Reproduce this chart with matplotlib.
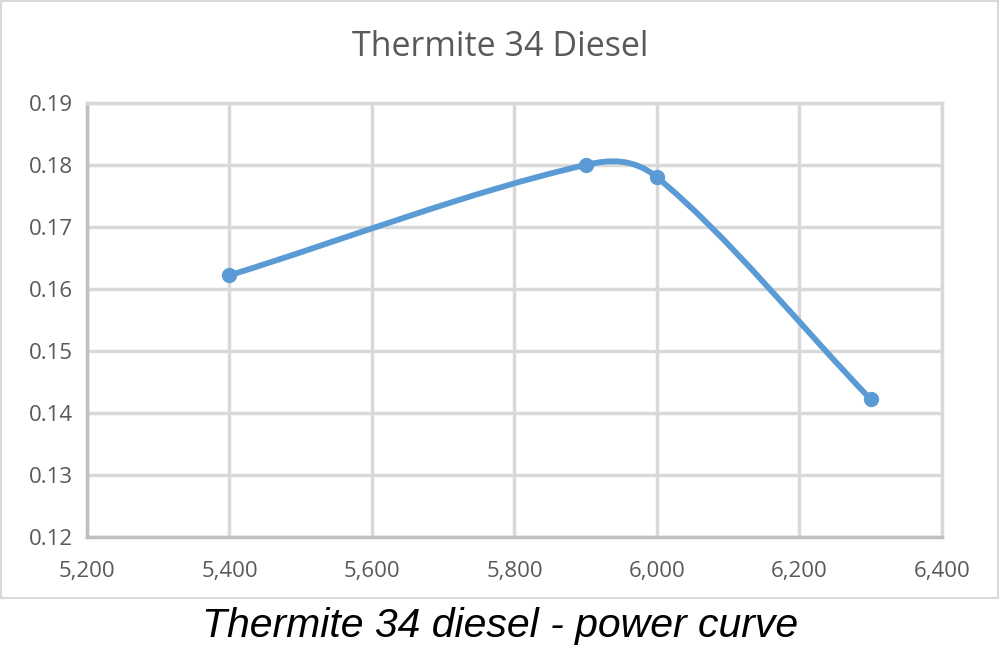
import matplotlib.pyplot as plt
from matplotlib.path import Path
from matplotlib.patches import PathPatch, Rectangle

rpm = [5400, 5900, 6000, 6300]
power = [0.1622, 0.1800, 0.1780, 0.1422]
x_ticks = [5200, 5400, 5600, 5800, 6000, 6200, 6400]
y_ticks = [0.12, 0.13, 0.14, 0.15, 0.16, 0.17, 0.18, 0.19]

line_color = '#5b9bd5'
text_gray = '#595959'


def smooth_path(xs, ys):
    # smoothed line: cubic hermite pieces, slopes from the neighbouring points
    n = len(xs)
    slopes = []
    for i in range(n):
        a = max(i - 1, 0)
        b = min(i + 1, n - 1)
        slopes.append((ys[b] - ys[a]) / (xs[b] - xs[a]))
    verts = [(xs[0], ys[0])]
    codes = [Path.MOVETO]
    for i in range(n - 1):
        h = (xs[i + 1] - xs[i]) / 3
        verts += [(xs[i] + h, ys[i] + slopes[i] * h),
                  (xs[i + 1] - h, ys[i + 1] - slopes[i + 1] * h),
                  (xs[i + 1], ys[i + 1])]
        codes += [Path.CURVE4] * 3
    return Path(verts, codes)


fig = plt.figure(figsize=(10, 6.49), dpi=100)
fig.patches.append(Rectangle((0.001, 0.079), 0.997, 0.919, transform=fig.transFigure,
                             fill=False, edgecolor='#d9d9d9', linewidth=1.5))

ax = fig.add_axes([0.087, 0.1725, 0.855, 0.669])
ax.set_xlim(5200, 6400)
ax.set_ylim(0.12, 0.19)
ax.set_xticks(x_ticks)
ax.set_yticks(y_ticks)
ax.set_xticklabels([f'{v:,}' for v in x_ticks])
ax.set_yticklabels([f'{v:.2f}' for v in y_ticks])
ax.grid(True, color='#d9d9d9', linewidth=2.5)
ax.set_axisbelow(True)
for side in ax.spines.values():
    side.set_color('#d9d9d9')
    side.set_linewidth(2.5)
ax.spines['left'].set_color('#bfbfbf')
ax.spines['bottom'].set_color('#bfbfbf')
ax.tick_params(axis='y', length=0, labelsize=16, labelcolor=text_gray, pad=10)
ax.tick_params(axis='x', length=0, labelsize=16, labelcolor=text_gray, pad=17)
for lbl in ax.get_xticklabels() + ax.get_yticklabels():
    lbl.set_family('Open Sans')

ax.add_patch(PathPatch(smooth_path(rpm, power), fill=False, edgecolor=line_color,
                       linewidth=4.2, capstyle='round', zorder=3))
ax.plot(rpm, power, 'o', color=line_color, markersize=10, zorder=4)

fig.text(0.5, 0.928, 'Thermite 34 Diesel', ha='center', va='center',
         fontsize=24.5, color=text_gray, family='Open Sans')
fig.text(0.5, 0.035, 'Thermite 34 diesel - power curve', ha='center', va='center',
         fontsize=29.5, style='italic', family='Liberation Sans', color='black')

fig.savefig('out.png', dpi=100)
